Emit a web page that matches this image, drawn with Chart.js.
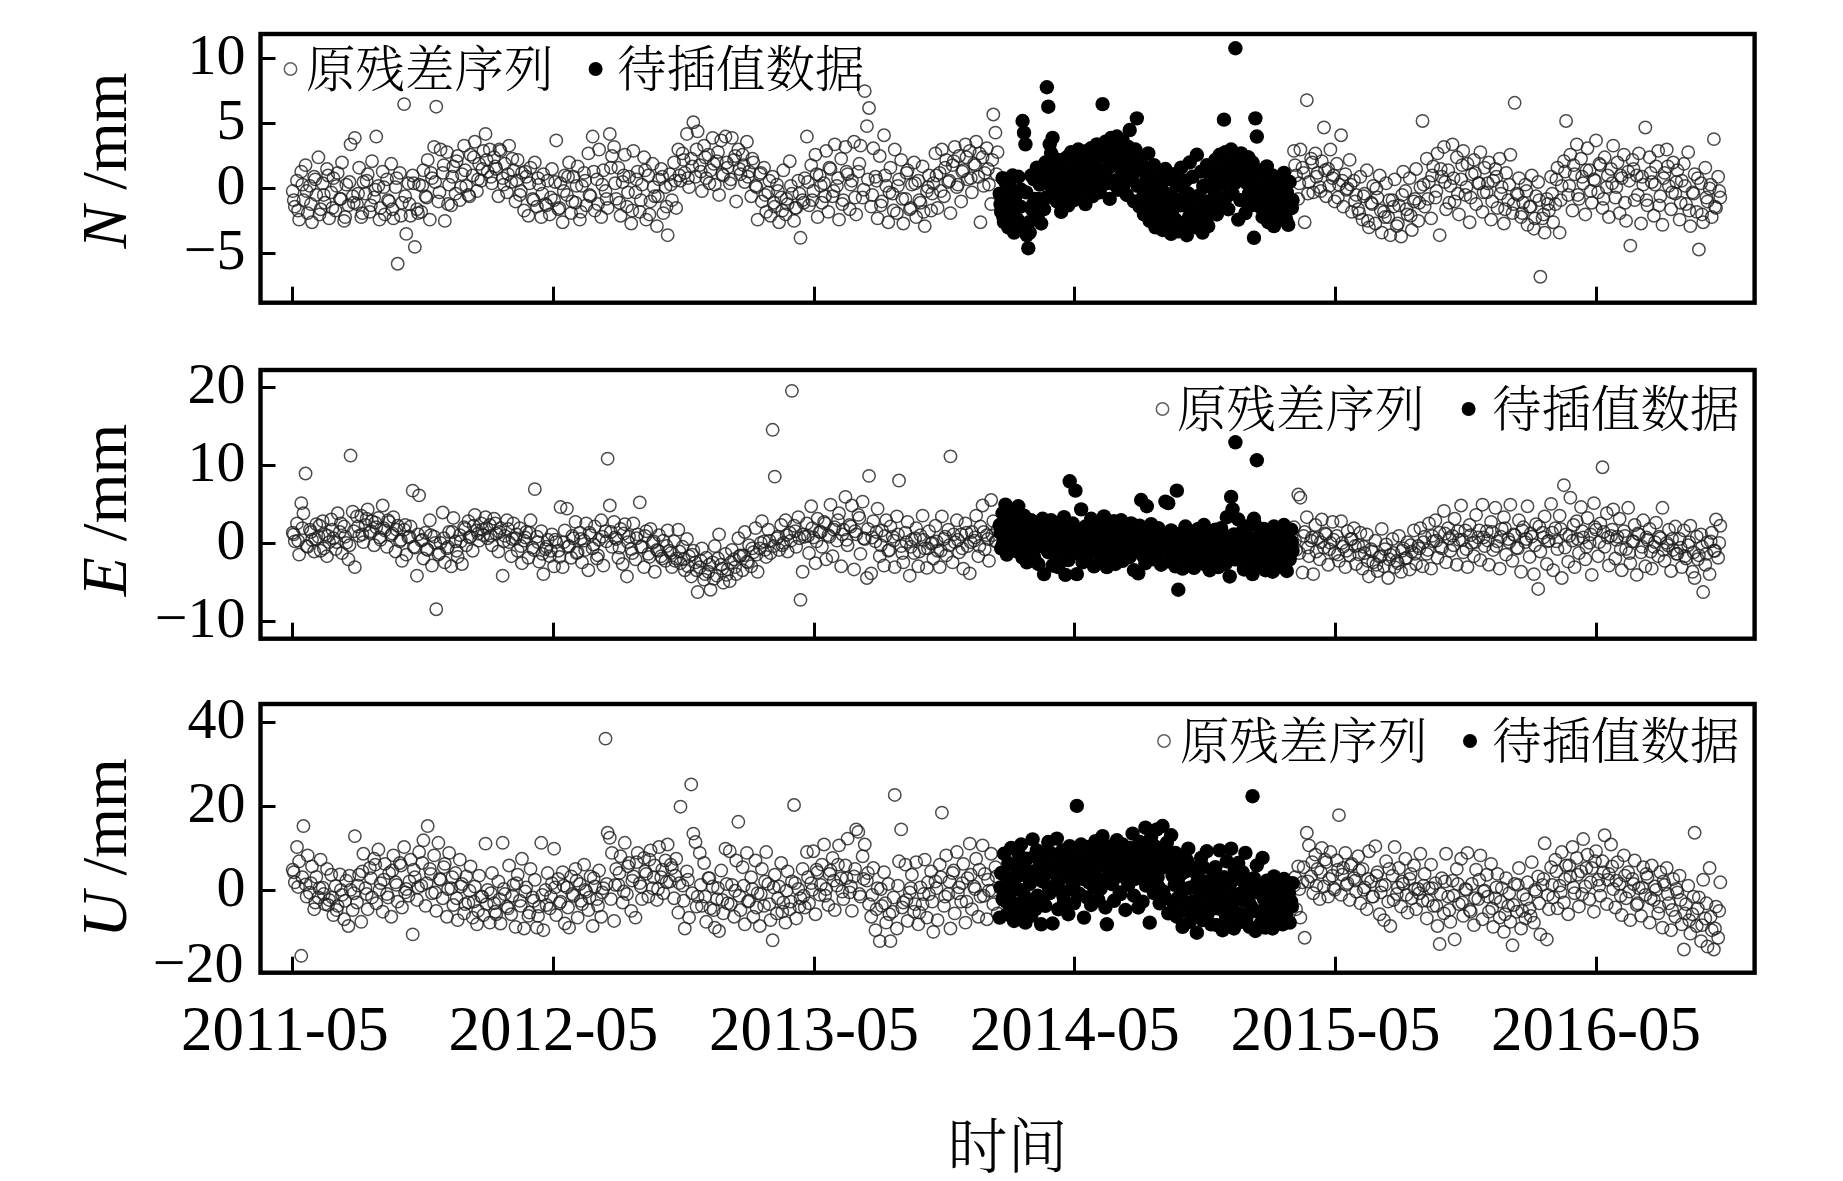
<!DOCTYPE html>
<html><head><meta charset="utf-8">
<style>html,body{margin:0;padding:0;background:#fff;width:1843px;height:1181px;overflow:hidden}canvas{position:absolute;left:0}</style>
<script src="https://cdn.jsdelivr.net/npm/chart.js@4"></script>
</head><body>
<canvas id="cN" style="top:0"></canvas>
<canvas id="cE" style="top:340px"></canvas>
<canvas id="cU" style="top:680px"></canvas>
<script>
const xTickValues=[0,365,730,1095,1460,1825];
const xTickLabels=['2011-05','2012-05','2013-05','2014-05','2015-05','2016-05'];
const xAxisTitle='时间';
const legendLabels=['原残差序列','待插值数据'];
const nTicks=[10,5,0,-5];
const eTicks=[20,10,0,-10];
const uTicks=[40,20,0];
const uExtraTickLabel='−20';
const startBefore=0,startFilled=990,startAfter=1402;
const stepOpen=3,stepFilled=2;
const startBefore2=1.5,startFilled2=991,startAfter2=1403.5;
const stepOpen2=6,stepFilled2=4;
const nBefore=[-0.2,-1.4,0.6,-2.4,1.3,-0.9,1.8,-1.9,0.2,-2.6,0.9,-0.5,2.4,-1.6,0.4,-1.1,1.5,-2.3,-0.3,0.8,-1.7,1.2,-0.8,2.0,-2.5,0.3,-1.3,3.4,-0.6,3.9,
-1.2,1.6,-2.2,0.5,-0.4,1.1,-1.8,2.1,-0.7,4.0,0.2,-1.5,1.3,-2.0,0.7,-1.0,1.9,-2.3,0.1,-5.8,1.2,-1.1,6.5,-3.5,0.4,-2.1,1.0,-4.5,-1.6,0.3,
-1.8,1.4,-0.6,2.2,-2.4,0.8,3.2,6.3,-1.0,3.0,1.2,-2.5,2.8,0.3,-1.3,1.7,-0.4,2.5,-0.9,1.1,3.3,0.2,-0.5,2.6,1.0,3.6,-0.2,1.9,0.6,2.9,
4.2,1.3,3.0,0.4,2.4,1.5,-0.6,2.9,0.8,1.9,-0.3,3.3,0.5,1.4,-1.0,2.2,-0.5,1.2,-1.7,0.9,-2.1,1.6,-0.8,2.0,-1.4,0.3,-2.2,1.1,-1.2,0.6,
-2.0,1.5,-0.9,3.7,-1.6,0.4,-2.6,1.0,-0.5,2.0,-1.9,0.9,-1.1,1.7,-2.4,0.2,1.2,-1.3,2.7,-0.6,4.0,-1.7,0.7,3.0,-2.2,1.4,-0.2,-1.5,4.2,2.5,
3.2,-0.8,1.6,-2.1,0.5,2.6,-1.4,0.9,-2.7,2.9,-0.3,1.3,-1.8,0.3,2.4,-2.4,1.0,-1.0,1.9,-0.6,-2.9,0.7,1.5,-1.9,0.1,-3.6,1.1,-0.9,2.0,-1.5,
3.0,0.6,2.7,1.2,4.2,0.1,2.3,5.1,0.9,4.4,1.8,-0.2,3.3,0.8,2.6,1.4,3.9,0.3,2.1,-0.5,3.7,1.0,4.0,1.6,0.4,3.9,2.2,-1.0,3.0,1.1,
2.6,0.5,3.6,1.3,-0.6,2.0,0.2,-2.4,1.1,-1.0,1.6,-1.8,-0.3,-2.1,0.9,-1.4,0.3,-2.6,-0.7,1.4,-2.0,-1.2,2.1,-0.4,-2.5,-1.5,0.6,-3.8,-0.9,0.8,
4.0,-1.3,1.8,-0.2,2.6,-2.2,1.0,-1.1,0.4,2.9,-1.8,1.5,-0.6,3.4,0.2,-2.4,2.3,-0.9,3.2,1.1,-1.6,0.6,3.6,-2.0,1.3,3.3,-0.7,7.5,4.8,6.2,
-1.4,3.1,0.9,-2.3,2.5,-1.0,4.1,0.2,-2.6,1.6,-0.4,3.0,-1.9,0.7,2.2,-2.7,-0.8,1.4,-1.6,0.3,2.0,-2.2,0.6,-1.1,1.7,-2.9,-0.2,1.0,-1.7,0.4,
2.7,-1.5,1.2,3.0,-0.6,2.2,0.5,-1.9,1.8,3.2,0.1,2.5,-1.0,1.4,3.4,0.7,2.9,-0.3,1.9,3.6,0.9,-2.6,2.4,1.2,3.1,0.3,-1.2,5.7,4.3,2.8];
const nAfter=[2.9,1.0,-0.8,3.0,1.6,-2.6,6.8,0.5,2.3,-0.3,2.7,1.2,0.1,2.1,4.7,-0.6,1.5,3.0,0.8,-1.0,1.9,0.3,4.1,-1.4,1.1,0.0,2.2,-1.8,0.6,-0.5,
-1.6,0.9,-2.4,-0.4,1.4,-3.0,-1.1,0.2,-2.7,-0.7,1.0,-3.4,-1.8,0.4,-2.2,-3.6,-0.9,0.7,-2.9,-1.3,-3.7,1.3,-0.2,-2.0,0.8,-3.2,-1.0,1.5,-2.5,0.1,
5.2,-1.4,2.3,0.5,-2.3,1.7,-0.7,2.7,-3.6,0.9,3.2,-1.6,1.4,0.2,3.4,-1.0,2.4,-2.0,0.7,2.9,-0.5,1.9,-2.6,1.1,2.2,-1.2,0.4,2.8,-1.8,1.6,
-0.3,2.0,-2.4,0.6,1.5,-1.5,2.3,0.1,-2.7,1.2,-0.9,2.6,-1.9,6.6,-0.4,0.8,-2.2,-1.1,0.3,-2.8,-1.4,1.0,-3.1,-0.6,0.5,-6.8,-2.3,-3.4,-0.8,-1.7,
0.9,-2.6,-1.2,1.6,-3.4,0.2,2.1,5.2,-0.5,2.6,-1.7,1.1,3.4,-0.8,2.3,0.4,-2.0,3.1,1.4,-1.1,0.7,3.7,-0.3,1.8,-1.5,2.4,0.1,-2.2,1.5,3.3,
-0.7,2.0,-1.9,0.8,2.6,-2.5,1.3,-4.4,2.2,-0.9,1.0,2.7,-2.7,0.3,4.7,-1.3,2.4,0.5,-2.1,1.7,2.9,-0.6,-2.8,1.2,3.0,0.2,-1.6,2.0,-0.4,1.4,
-2.4,0.6,1.9,-1.2,2.8,-2.9,-0.3,1.1,-1.8,-4.7,0.4,-2.6,1.6,-1.0,0.0,-2.2,3.8,-1.5,0.9,-0.7];
const nFilled=[-0.4,-1.8,0.8,-2.6,0.5,-1.2,-3.0,0.2,-2.2,1.0,-3.4,-0.6,-1.5,0.9,-2.9,-0.1,5.2,4.3,3.4,-3.6,-4.6,-3.4,1.0,-1.3,0.7,-2.1,1.6,-0.8,0.3,-2.7,
1.3,-1.6,2.0,7.8,6.3,3.4,2.7,3.9,-0.2,1.2,-1.0,2.2,0.4,-1.8,1.6,0.6,-0.7,2.4,-1.3,0.9,2.8,0.1,-0.9,2.1,1.1,3.0,-0.4,1.7,0.3,2.5,
-1.2,2.9,1.0,0.2,3.1,-0.6,2.0,0.7,3.4,1.5,-0.3,2.7,6.5,1.2,3.6,0.4,2.3,-0.8,3.9,1.8,0.6,3.3,4.0,-0.1,2.6,1.0,3.7,0.3,2.2,-0.5,
3.2,4.5,0.9,2.5,-1.0,3.0,5.4,1.6,-1.4,2.0,0.2,-2.0,1.2,-0.7,2.7,-2.5,0.5,-1.5,1.8,-3.0,-0.3,1.0,-2.2,0.3,-3.2,-1.1,1.5,-2.7,-0.5,0.7,
-3.5,-1.6,1.1,-2.4,0.2,-3.3,-0.9,1.6,-2.8,-1.3,0.6,-3.6,-0.4,2.0,-2.1,0.9,-1.7,-3.0,2.6,-0.6,-2.4,1.3,-3.4,0.1,-1.0,1.8,-2.9,0.5,-1.9,1.2,
-0.8,2.2,-2.0,1.0,2.6,-1.2,0.3,5.3,2.8,0.7,-1.6,1.9,3.0,-0.4,1.3,10.8,2.3,-2.4,0.9,2.7,-0.9,1.6,-1.9,0.4,2.4,1.1,-1.3,2.0,-3.8,5.4,
4.0,0.2,-1.4,1.4,-2.2,0.6,-0.7,1.7,-2.6,0.1,-1.8,1.0,-2.9,-0.5,0.8,-1.6,-2.4,0.3,-1.1,1.2,-2.0,-0.3,-2.8,0.5,-1.5,-0.9];
const nBefore2=[-0.9,-1.7,0.3,-0.2,-1.2,0.7,-2.0,-0.5,1.0,-1.5,0.2,-0.8,-2.2,0.5,-1.1,
-0.4,-1.9,0.6,-1.3,-0.1,-2.4,0.1,-0.9,-1.6,0.8,-2.1,-0.6,-1.2,0.4,-1.9,
0.2,-0.7,1.2,0.5,-0.3,1.8,-1.2,0.9,2.1,0.1,1.4,-0.6,2.4,0.7,1.5,
2.2,0.9,1.7,3.0,0.3,1.1,2.3,0.6,-0.2,1.3,0.4,-0.9,0.8,-0.4,-1.3,
-0.7,0.5,-1.5,-0.2,0.9,-1.0,0.2,-1.8,0.6,-0.5,1.3,-1.2,0.3,-0.8,1.6,
0.4,-1.1,1.0,-0.3,-1.7,0.7,-0.9,1.4,-2.0,0.1,-0.6,0.9,-1.4,0.3,0.6,
1.0,2.2,0.8,1.7,3.0,1.3,2.4,0.4,1.9,2.8,1.1,2.0,0.7,2.5,1.5,
1.8,0.9,2.3,0.1,1.2,-0.5,0.6,-1.1,-0.2,-1.7,-0.8,0.2,-1.5,-0.4,-1.1,
0.5,-0.9,1.1,0.2,-0.6,1.6,-0.2,0.8,-1.2,1.3,0.3,-0.7,1.9,-0.1,0.7,
-0.5,0.6,-1.3,1.0,-0.3,-1.7,0.2,-0.8,1.2,-1.5,0.4,-0.9,-1.8,0.1,-0.4,
1.0,-0.2,1.6,0.6,2.1,0.3,1.3,2.4,0.8,1.8,2.7,0.2,1.5,2.2,1.1];
const nAfter2=[1.8,0.4,1.2,-0.4,2.0,0.9,-0.2,1.4,0.2,1.0,-0.7,0.6,-0.1,0.3,-1.0,
-1.9,-0.6,-2.5,-1.2,0.0,-1.7,-2.2,-0.9,-1.4,-2.7,-0.5,-1.6,-2.1,-0.8,-1.1,
0.3,-0.8,1.0,-0.2,1.5,0.5,-1.1,0.8,-0.4,1.8,0.1,-0.7,1.2,0.4,-0.3,
0.4,-1.0,0.9,-0.4,-1.6,0.3,-1.2,-0.5,-1.9,-0.2,-1.4,-2.3,-0.9,-2.0,-1.2,
-0.4,0.7,-0.9,1.3,0.2,1.8,-0.5,0.9,1.4,-0.2,0.6,1.9,-0.8,1.0,0.4,
0.1,1.0,-1.1,0.6,1.5,-0.5,0.9,-0.9,1.2,0.3,-1.3,0.8,1.7,-0.3,0.5,
-1.1,0.2,-1.7,-0.4,0.8,-2.0,-0.7,0.3,-1.4,-0.2];
const nFilled2=[-1.2,-2.2,-0.5,-1.7,-2.8,-0.9,-2.4,-1.4,-3.1,-0.3,-2.6,-1.6,-0.8,-2.3,-1.1,
0.4,-0.7,1.0,0.1,1.5,-0.3,0.7,1.8,-1.0,0.2,1.2,-0.5,2.0,0.5,1.4,
1.0,2.2,0.0,1.7,2.8,0.5,1.2,2.4,1.6,3.0,0.3,1.9,2.6,1.1,1.4,
2.0,0.8,2.6,0.2,1.4,-0.6,0.6,-1.4,-0.2,-2.0,-0.9,-1.6,-2.4,-0.4,-1.2,
-1.9,-0.8,-2.6,-1.3,-3.0,-0.3,-2.2,-1.1,-2.8,-0.6,-1.7,0.2,-2.4,-1.0,-1.5,
-0.2,1.0,0.3,1.7,-0.7,0.8,2.1,0.4,1.4,-0.9,0.6,1.8,-0.4,1.1,0.2,
-0.6,-1.4,0.2,-1.9,-0.9,-0.2,-2.2,-1.2,-0.5,-1.7,-2.4,-1.0,-1.5];
const eBefore=[1.4,0.3,2.6,-1.4,5.2,3.9,9.0,-0.4,1.8,0.5,-1.0,2.5,0.9,-0.9,2.9,1.2,-1.6,0.2,3.1,0.7,-0.7,3.9,1.5,-1.2,2.2,0.1,-2.0,11.3,4.1,-3.0,
3.5,1.0,3.6,0.2,2.4,4.4,1.4,2.9,-0.2,2.1,3.3,0.5,4.9,1.7,-0.4,2.8,1.1,3.4,-1.0,2.3,0.3,-2.2,1.8,-1.4,0.8,2.2,6.8,-0.5,-4.1,6.2,
0.4,-1.9,1.4,-0.8,3.0,-2.8,0.9,-8.4,-1.4,0.1,4.0,-2.4,-0.6,1.5,-2.9,3.3,0.3,-1.7,1.1,-2.6,2.1,-0.2,2.9,0.9,-0.9,3.7,1.7,0.4,2.6,1.1,
3.4,0.7,2.4,-0.2,3.2,1.3,-1.0,2.0,-4.1,1.0,3.0,0.2,-1.6,2.6,0.7,-0.9,2.0,-2.5,0.4,1.5,-1.8,3.0,-0.5,7.0,0.9,-2.3,1.6,-3.9,-0.7,0.5,
-1.6,1.2,-2.9,0.2,-0.9,4.7,-3.0,1.7,4.5,-0.3,-1.8,0.7,2.8,-1.1,1.4,-2.4,0.4,2.6,-3.4,1.1,-0.6,2.2,-1.9,0.5,3.0,-2.8,1.6,10.9,4.9,-0.4,
2.8,0.6,-1.8,1.9,-2.6,2.5,-4.2,0.9,-0.7,2.6,-2.0,1.2,5.3,-0.4,-3.0,1.6,-1.3,1.9,0.1,-3.6,-0.8,1.1,-1.6,0.4,-2.2,1.7,-0.9,-3.0,0.3,-1.9,
1.8,-2.5,-0.4,-3.4,0.6,-1.6,-4.2,-0.9,-2.4,-6.2,-3.0,-0.6,-4.6,-1.8,-3.6,-5.9,-2.4,-0.3,-4.1,1.2,-2.7,-5.0,-1.3,-3.3,-4.8,-0.8,-2.0,-3.9,0.7,-1.5,
-3.4,1.5,-2.3,-0.2,-2.9,-1.1,2.0,-3.6,-0.6,2.9,0.3,-1.7,1.8,-1.2,14.6,8.6,0.7,-0.8,2.4,0.1,3.0,-1.0,1.4,19.6,2.3,-0.4,3.4,-7.2,-3.6,0.9,
2.6,-1.2,4.8,0.8,-2.5,3.2,1.5,-0.4,2.8,-2.0,1.1,5.0,-1.6,2.1,0.4,3.9,-2.9,1.8,6.0,-0.2,2.4,4.9,-3.3,1.2,3.7,-1.3,5.4,0.6,-4.4,8.7,
-3.8,2.9,0.3,4.5,-1.6,1.7,-2.8,3.0,-0.9,2.2,0.9,-3.0,3.5,8.1,-0.3,-2.4,1.4,2.8,-4.1,0.5,-1.2,2.0,-2.9,1.1,3.6,-0.6,-3.1,1.6,0.0,-1.9,
2.3,-0.9,-3.0,3.5,0.6,-1.5,1.8,11.2,-2.4,0.2,3.0,-1.1,1.2,-3.2,2.6,-0.3,-3.8,1.5,0.4,3.6,-1.6,2.2,4.9,-0.7,1.1,-2.2,5.6,2.9,0.3,1.8];
const eAfter=[2.1,-0.8,6.3,5.9,-3.7,1.5,3.4,-1.6,0.4,-3.9,2.4,0.7,-2.0,3.1,-0.5,1.2,-2.7,0.1,2.8,-1.2,1.0,-2.2,2.9,-0.4,-3.0,1.6,-1.5,0.6,2.0,-2.6,
-0.2,1.4,-3.2,-1.2,1.2,-4.2,-0.7,-2.4,0.4,-3.5,-1.7,1.9,-2.9,-0.1,-4.4,-1.4,0.6,-3.0,-2.2,1.0,-3.6,-0.6,-1.9,0.2,-3.3,-1.0,1.7,-2.6,-0.3,2.0,
-2.9,0.9,-1.3,2.6,-3.2,0.3,3.0,-1.8,1.4,-0.6,4.2,-2.4,2.0,-0.9,1.0,3.2,-2.7,0.5,4.9,-1.1,1.7,-3.0,2.4,0.1,-1.6,3.7,0.8,-2.1,5.0,-0.3,
1.6,-2.7,2.8,-0.8,4.6,0.3,-3.2,1.9,3.4,-1.4,0.6,5.0,-2.2,1.1,-0.5,3.0,-3.6,2.1,0.2,4.8,-1.7,0.9,-3.9,2.5,-5.8,-1.0,1.4,3.5,-2.6,0.4,
5.1,-3.4,2.0,-0.7,3.6,-4.4,7.5,1.2,-2.3,5.9,0.4,-3.0,2.9,-1.2,4.7,0.8,-2.0,3.3,0.1,-4.0,5.2,1.8,-1.6,2.6,9.8,-0.4,3.9,-2.8,1.0,4.4,
-1.9,0.9,3.2,-3.4,1.6,-0.7,4.6,-2.5,0.3,2.4,-4.0,1.2,-1.1,3.0,-2.9,0.5,1.9,-3.2,-0.4,2.7,-1.6,0.7,4.6,-2.2,0.1,1.8,-3.5,-0.8,2.2,-1.3,
0.6,-3.0,1.7,-1.9,-0.2,2.3,-3.6,-4.4,0.9,-1.5,1.2,-6.2,-2.7,0.2,-3.9,1.4,-0.9,3.1,-1.8,2.3];
const eFilled=[2.4,-0.6,3.9,1.0,5.0,-1.4,2.8,0.3,4.4,-0.4,3.2,1.2,-1.0,4.8,0.6,2.4,-1.8,3.6,0.2,-2.4,2.0,-0.8,3.0,1.1,-1.7,2.6,0.4,-2.6,1.6,-0.3,
3.2,-3.9,0.9,2.2,-1.1,1.4,3.0,-2.8,0.6,1.9,-0.5,-3.0,2.5,0.1,-1.5,3.4,-4.0,1.0,-2.1,8.0,0.4,2.6,-1.2,6.8,-3.9,1.5,-0.3,4.4,-2.4,0.8,
2.2,-1.8,1.2,-0.6,3.2,0.3,-2.9,1.8,-1.0,2.7,0.6,-2.0,1.4,3.5,-0.4,-3.0,1.0,2.4,-1.5,0.2,2.9,-2.6,0.7,-0.8,1.7,3.0,-2.2,0.4,-1.2,2.0,
0.9,-1.7,2.6,-0.2,-3.4,1.4,0.1,-3.8,2.3,5.6,-1.1,0.7,-2.5,4.8,1.9,-0.7,2.5,0.3,-2.0,1.5,-1.3,2.0,0.5,-2.7,1.1,-0.9,5.4,0.0,5.2,-2.3,
1.7,-0.6,0.9,-2.9,6.8,-5.9,-1.4,1.3,-3.2,0.2,2.2,-1.8,-0.4,1.6,-2.6,0.7,-3.1,1.2,-0.9,1.9,-2.0,0.4,-1.5,2.4,-2.7,0.0,1.4,-3.4,-1.1,0.8,
-2.3,1.8,-0.7,-3.0,0.6,2.0,-1.7,1.0,-2.6,3.4,-0.2,-4.2,6.0,4.4,1.2,13.0,-2.0,3.1,0.3,-1.3,1.6,-3.3,0.2,2.2,-1.0,-2.5,0.7,-3.9,3.2,2.4,
10.7,-1.6,1.0,-2.8,0.3,1.9,-3.4,-0.8,1.2,-2.2,0.4,-3.6,2.2,-1.2,0.6,-3.0,1.5,-0.3,-2.4,2.4,-1.4,-3.5,0.9,-2.0,1.8,-0.9];
const eBefore2=[1.2,0.4,2.0,-0.3,1.5,0.6,2.3,-0.6,1.0,1.8,0.2,2.6,0.9,-0.2,1.6,
2.2,1.2,3.2,1.6,2.7,0.8,2.0,3.0,1.3,1.8,0.5,2.4,0.9,-0.4,1.2,
0.5,-0.7,1.1,0.1,-1.2,0.7,-0.4,1.5,-0.9,0.3,1.9,0.8,2.3,1.3,1.8,
2.0,1.0,2.6,1.5,0.3,1.9,0.6,1.2,-0.3,0.8,1.4,-0.8,0.2,-1.3,-0.4,
-0.9,0.5,-1.7,0.2,-0.4,1.0,-1.2,0.6,-0.8,1.4,-0.1,-1.5,0.9,0.3,1.5,
0.8,-0.5,1.3,0.2,-1.2,0.7,-0.4,1.0,-1.7,0.3,-0.9,-1.9,-0.3,-1.2,-2.2,
-1.0,-2.0,-2.9,-1.4,-3.4,-2.2,-3.9,-2.7,-4.5,-1.9,-3.2,-4.0,-2.4,-3.0,-1.6,
-1.5,-2.4,-0.6,-1.4,0.1,-0.8,0.4,-0.3,0.9,-0.2,1.1,0.4,1.6,0.7,1.2,
1.0,2.0,0.3,1.5,2.6,0.9,1.8,3.0,1.2,0.5,2.2,1.6,3.3,0.7,1.9,
0.8,1.5,-0.2,1.0,-0.8,0.4,1.2,-1.2,0.2,-0.4,0.7,-1.0,0.5,-0.6,0.1,
0.3,-0.9,0.9,-0.2,1.2,0.5,-0.6,1.4,0.2,0.8,-0.3,1.5,0.6,1.1,0.3];
const eAfter2=[0.4,-1.2,1.0,-0.5,0.8,-1.0,0.2,1.3,-0.7,0.5,-1.4,0.1,-0.9,0.6,-0.3,
-1.4,-0.4,-2.2,-1.0,-2.7,-1.6,-0.7,-2.0,-1.2,-2.5,-0.9,-1.8,-0.2,-1.3,-0.6,
0.2,-0.8,1.0,0.4,-0.4,1.3,0.7,-0.2,1.6,0.5,-0.7,1.1,0.2,1.7,0.8,
0.4,1.5,-0.3,0.9,2.0,0.2,1.2,-0.6,1.7,0.6,1.3,-0.2,2.2,0.8,0.3,
1.4,0.3,1.9,-0.5,1.0,2.4,0.6,1.6,-0.4,1.2,2.1,0.2,1.5,0.8,1.8,
0.5,-0.7,1.0,-1.2,0.3,1.3,-0.4,0.8,-1.0,0.2,0.9,-0.8,-0.2,0.6,-1.3,
-0.5,-1.6,0.2,-1.1,-2.0,-0.4,-1.3,0.3,-0.9,0.1];
const eFilled2=[1.4,0.2,2.2,0.8,1.7,-0.3,1.1,2.6,0.5,1.5,-0.5,0.9,1.9,0.3,1.2,
0.6,-0.6,1.3,0.2,-1.2,0.9,-0.2,1.7,-0.8,0.5,1.2,-0.4,0.1,1.0,-0.9,
0.5,-0.7,1.0,-0.2,1.7,-1.1,0.3,0.9,-0.5,1.3,-1.4,0.6,-0.1,1.5,0.2,
-0.4,0.7,-1.0,1.2,-0.2,-1.6,0.5,1.0,-0.7,0.2,-1.2,1.4,-0.5,0.3,-0.9,
0.4,-1.1,-0.2,0.7,-1.5,0.3,-0.6,1.0,-1.3,-0.1,0.5,-0.9,-1.7,0.2,-0.4,
-0.8,0.4,-1.6,-0.3,0.8,-1.1,0.1,-2.0,-0.5,0.6,-1.3,1.0,-0.7,-1.8,0.2,
-0.5,-1.5,0.4,-1.1,-2.2,-0.2,-1.3,0.6,-0.8,-1.9,-0.3,-1.0,0.2];
const uBefore=[5.0,2.0,10.4,7.0,-15.5,15.4,1.5,8.4,-0.5,5.8,-4.4,3.3,-1.6,7.4,0.7,-3.2,5.2,-2.2,3.8,-5.8,1.1,-3.6,3.9,-1.0,-6.8,2.4,-8.4,0.2,-4.6,13.0,
-2.8,3.8,-7.4,8.8,0.6,-4.4,5.4,-1.6,7.6,-3.0,9.8,1.8,-5.0,6.4,-0.8,4.2,-6.2,8.4,2.0,-2.6,6.6,-4.0,10.4,0.4,-1.2,7.4,-10.4,3.2,-2.2,9.2,
1.2,12.0,-3.6,15.4,5.2,-0.6,8.4,-4.8,11.4,2.6,-1.8,6.4,-6.2,9.0,0.6,-3.4,4.2,-7.0,7.4,1.6,-5.4,3.4,-2.8,5.8,-6.4,1.0,-8.0,3.6,-1.4,-5.8,
11.2,0.2,-7.6,4.2,-3.0,-5.6,2.2,-7.8,11.4,-0.8,-3.8,6.0,-5.6,1.4,-8.6,3.8,-2.4,7.6,-9.0,0.8,-6.0,5.2,-1.6,2.6,-8.8,-3.8,11.4,-9.4,0.2,4.2,
-4.2,1.8,10.0,-5.8,2.8,-2.6,4.4,-7.8,0.8,-8.8,3.4,-1.2,5.2,-6.4,1.6,-3.2,6.2,-0.2,-4.6,3.4,-8.4,1.0,-2.0,4.8,-6.2,0.6,36.2,13.8,12.6,9.0,
-7.2,5.2,1.4,8.2,-2.8,11.4,-0.8,6.6,-4.8,3.4,-6.4,9.0,1.8,-2.0,7.8,4.0,-1.4,9.6,0.6,6.0,-2.2,10.4,3.2,-0.6,7.2,11.0,2.2,5.4,-1.8,7.6,
-5.2,20.0,1.2,-9.0,4.6,-6.4,25.3,13.6,11.6,-1.4,9.0,-3.6,6.6,-7.4,3.0,-4.2,1.0,-8.8,-2.0,-9.6,4.8,-5.4,10.0,-3.0,9.4,1.4,-6.2,7.2,16.4,-4.6,
5.6,-8.0,9.0,-2.4,3.2,-6.2,7.2,-0.6,-8.4,5.2,-3.6,9.2,1.6,-7.0,-11.8,3.8,-5.4,1.0,6.6,-2.8,-7.6,4.6,-4.4,2.2,20.4,-6.6,0.4,-1.8,5.2,-4.0,
9.2,-3.0,1.8,9.4,-5.6,4.4,-1.0,6.2,11.0,0.4,-3.4,4.8,7.8,-4.6,1.2,10.8,3.0,-2.0,6.0,12.4,-0.4,-4.8,3.4,14.6,14.0,-1.4,8.2,11.0,2.4,-3.2,
-6.2,5.4,-9.4,0.6,-12.0,-3.6,4.4,-7.6,1.6,-12.0,-5.0,22.8,-9.0,7.0,14.6,-2.8,6.2,-7.2,-0.4,3.8,-5.0,6.8,-8.0,0.8,-3.2,7.4,-6.4,-0.8,4.6,-9.8,
2.2,-7.0,6.2,18.6,-3.6,8.4,-0.8,-9.0,4.2,-5.4,9.2,0.8,-2.6,6.4,-7.6,3.0,11.2,-4.4,1.0,7.6,-6.2,-1.4,10.8,4.0,-6.8,0.0,8.8,-3.2,5.6,-5.4];
const uAfter=[1.2,-4.4,5.8,-6.4,2.0,-11.2,13.8,10.8,3.4,-0.6,8.6,5.2,-2.0,10.2,1.0,6.8,-1.4,9.2,3.6,0.2,7.2,18.0,-1.0,5.4,9.0,1.8,-2.2,6.4,3.0,-0.2,
8.2,-3.0,5.2,0.8,-4.4,9.4,2.2,-1.4,10.6,4.4,-5.6,1.2,-7.0,7.0,-2.6,-8.4,3.6,10.4,-0.8,5.4,-3.8,1.6,7.6,-5.2,2.8,-1.8,6.0,-4.4,0.4,8.8,
-2.4,4.0,-6.6,0.6,6.2,-3.6,1.8,-8.4,-12.7,3.0,-5.4,8.8,-1.4,-7.4,2.4,-11.6,5.2,-3.2,7.6,-6.0,0.4,9.0,-4.6,1.6,-8.2,5.0,-2.0,8.4,-6.8,0.0,
3.8,-5.0,6.4,-8.6,-1.8,4.0,-6.4,0.6,-9.8,3.0,-3.6,-7.4,-13.0,1.6,-5.0,5.4,-9.0,-1.0,-6.6,2.0,-4.2,6.8,-7.6,-0.2,3.4,-10.4,1.4,11.3,-11.6,-4.4,
5.6,-1.6,7.4,-4.2,1.2,9.2,-2.8,6.0,-5.6,3.4,10.4,-0.6,7.8,-3.8,4.6,12.3,1.0,8.6,-2.0,5.4,-5.0,9.4,2.6,-1.2,7.0,13.2,-3.2,4.0,11.0,0.4,
-4.0,6.8,1.6,-5.8,8.4,-1.8,4.4,-7.0,2.8,7.2,-3.4,0.6,-6.0,5.6,-1.0,3.2,-7.6,6.0,-2.2,0.2,-5.4,4.4,-8.8,1.4,5.4,-3.0,-9.4,2.8,-6.2,-0.4,
3.6,-8.0,-14.0,-3.2,1.2,-10.2,-5.6,13.8,-8.4,-1.6,-12.0,2.6,-6.6,-13.3,5.4,-9.4,-14.0,-3.8,-11.2,2.0];
const uFilled=[-6.4,4.2,-2.0,8.8,1.0,-5.6,6.6,-1.0,10.2,3.0,-7.2,5.8,-3.2,9.0,0.2,11.0,-5.0,3.8,-7.6,7.6,-2.2,1.6,-6.0,12.2,4.6,-4.4,9.6,-1.4,6.0,-8.0,
2.2,9.0,-3.6,6.2,11.6,-0.6,4.4,-7.8,8.4,1.4,12.4,-4.4,5.8,0.0,9.6,-2.8,7.0,3.2,-5.6,10.6,6.0,1.2,-3.0,8.2,20.2,4.6,-0.8,11.0,2.8,-6.4,
7.2,-1.6,10.4,4.2,-3.4,8.0,0.8,11.8,5.6,-2.2,9.2,2.6,13.0,6.6,-4.0,-8.0,7.8,1.8,10.6,4.8,-2.4,9.6,12.0,3.4,-0.4,7.2,11.0,5.2,-4.6,8.4,
1.4,10.2,5.4,13.6,-1.2,8.2,3.0,-4.0,11.6,6.4,-2.6,9.8,15.0,2.2,7.4,-7.6,12.8,4.6,-0.6,10.0,14.6,1.0,-3.0,8.8,15.4,5.6,-1.8,11.4,-5.4,7.6,
13.2,3.6,-3.2,9.0,-6.2,1.8,8.2,-1.0,-8.6,4.4,-4.6,7.2,10.0,-7.4,0.8,-2.6,5.4,-5.8,-10.0,3.0,-0.6,7.8,-7.0,-3.4,2.2,9.4,-5.2,0.4,-8.0,4.8,
-2.2,5.6,-8.2,0.6,9.6,-4.4,-9.4,3.2,-1.4,7.0,-6.6,1.2,10.0,-3.6,-9.0,2.8,-5.4,6.6,-0.8,-7.4,4.4,-2.4,9.0,-6.0,0.2,-8.6,-3.8,22.5,3.0,-9.6,
6.0,-5.0,0.6,-7.6,7.8,-2.0,-8.8,2.4,-4.6,-6.4,0.0,-9.0,3.4,-3.0,-7.2,1.4,-5.8,-1.2,-8.0,2.8,-4.0,-6.8,0.4,-7.6,-2.6,1.8];
const uBefore2=[4.4,0.9,3.2,-1.4,1.8,-2.8,0.6,-0.8,-3.4,-1.6,-4.6,0.2,-2.4,3.6,-0.6,
1.2,4.6,-0.8,3.0,6.2,0.2,2.6,-1.6,4.8,1.4,6.0,-0.4,2.2,5.0,0.8,
6.6,1.8,4.0,-0.4,2.8,5.6,0.4,3.2,-1.8,1.0,-3.2,0.0,-2.6,-4.8,-1.4,
-3.2,-0.6,-5.0,-2.0,0.4,-4.2,-1.2,1.8,-3.6,-0.2,-5.2,-2.4,-6.0,-1.0,-3.4,
-1.4,0.8,-3.0,1.2,-4.0,-0.8,2.4,-2.4,0.2,-1.6,3.0,-3.6,-0.4,1.6,-2.0,
1.4,4.2,-0.2,5.8,2.4,6.8,1.0,4.6,7.4,3.2,0.4,5.0,2.0,6.2,3.6,
1.8,-2.4,2.6,-0.6,-3.8,1.4,-1.4,3.0,-4.6,0.6,-2.2,1.6,-3.2,0.0,-1.2,
1.2,-2.6,0.4,-4.0,-0.8,2.2,-3.2,0.8,-1.8,-5.0,0.0,-2.6,1.8,-3.8,-1.2,
3.2,0.2,5.0,1.4,-1.2,4.0,2.4,6.2,-0.2,3.0,1.0,5.2,-0.8,2.8,4.2,
-1.0,-4.4,0.4,-3.0,-5.6,-1.6,1.2,-4.0,-2.2,0.6,-3.2,-5.2,-0.8,2.0,-2.6,
0.6,3.2,-1.4,2.2,4.8,-0.6,1.8,-2.6,3.8,0.4,5.0,-1.2,2.6,0.0,3.4];
const uAfter2=[3.2,0.4,5.6,2.2,6.8,1.2,4.4,7.4,2.8,0.6,5.0,3.8,1.4,6.0,2.4,
4.8,0.2,2.8,-1.4,3.6,-0.4,1.4,5.2,-2.2,0.8,2.2,-1.0,4.0,0.4,-0.6,
1.2,-2.4,0.6,-3.6,-0.8,2.2,-4.6,-1.2,1.6,-2.8,0.2,-5.0,-1.8,2.6,-0.2,
-1.4,-4.2,0.8,-2.6,-5.6,-0.6,-3.4,1.4,-4.8,-2.0,-6.0,0.2,-3.0,2.8,-1.0,
1.4,4.6,-0.4,2.8,6.0,0.8,3.8,-0.8,5.4,2.0,7.0,1.2,4.4,2.6,5.8,
2.4,-1.2,3.6,-0.2,1.6,-3.0,0.8,4.0,-1.8,1.0,-3.8,2.2,-0.8,-4.6,0.4,
-2.2,-5.4,-7.0,-1.4,-4.2,-8.2,-3.0,-6.2,-9.0,-4.8];
const uFilled2=[0.8,4.0,-2.6,6.4,1.8,-4.0,3.4,7.8,-0.4,5.0,-3.0,2.4,8.2,-1.2,4.4,
3.2,6.6,0.6,8.8,4.2,1.4,7.2,-1.2,5.4,9.4,2.6,0.0,6.8,3.6,7.8,
5.4,2.0,9.0,3.4,7.6,0.4,6.2,10.2,4.0,1.6,8.4,5.8,-0.8,7.0,3.0,
6.0,9.6,2.8,7.2,4.4,11.2,1.2,8.6,5.0,10.6,3.2,6.8,-0.2,9.2,5.6,
5.8,1.4,-1.8,3.8,6.4,-3.4,0.6,4.8,-5.2,2.2,-1.2,5.6,-4.0,-0.2,2.6,
0.2,-4.2,3.0,-2.0,-6.2,1.4,-3.4,5.0,-1.0,-5.6,2.2,-7.0,-2.8,0.8,-4.8,
-0.4,-5.2,1.2,-3.2,-6.8,-1.4,-4.4,0.6,-7.4,-2.4,-5.6,-0.6,-3.8];

const SERIF='"Liberation Serif","Times New Roman",serif';
const CJK='"Noto Serif CJK SC","Noto Sans CJK SC",serif';
const pts=(vals,start,step)=>vals.map((y,i)=>({x:start+i*step,y}));
const W=1843,XMIN=-45.1,XMAX=2047;

function panel(cfg){
  const cv=document.getElementById(cfg.id);
  cv.width=W;cv.height=cfg.h;
  const plug={id:'deco',
    afterDraw(c){
      const g=c.ctx,a=c.chartArea;
      g.save();
      g.strokeStyle='#000';g.lineWidth=4.4;
      g.strokeRect(a.left,a.top,a.right-a.left,a.bottom-a.top);
      g.translate(126,cfg.titleY);g.rotate(-Math.PI/2);
      g.fillStyle='#000';g.textBaseline='alphabetic';
      g.font='italic 64px '+SERIF;const w1=g.measureText(cfg.letter).width;
      g.font='64px '+SERIF;const w2=g.measureText(' /mm').width;
      let x0=-(w1+w2)/2;
      g.font='italic 64px '+SERIF;g.textAlign='left';g.fillText(cfg.letter,x0,0);
      g.font='64px '+SERIF;g.fillText(' /mm',x0+w1,0);
      g.restore();
      g.save();
      const L=cfg.legend;
      g.textBaseline='middle';g.textAlign='left';g.font='300 49.5px '+CJK;g.fillStyle='#000';
      g.fillText(legendLabels[0],L.t1,L.y-1);
      g.fillText(legendLabels[1],L.t2,L.y-1);
      g.beginPath();g.arc(L.m1,L.y,6.2,0,2*Math.PI);g.strokeStyle='rgba(70,70,70,.85)';g.lineWidth=1.5;g.stroke();
      g.beginPath();g.arc(L.m2,L.y,7,0,2*Math.PI);g.fillStyle='#000';g.fill();
      if(cfg.extraLabel){
        g.font='58px '+SERIF;g.textAlign='right';g.textBaseline='middle';g.fillStyle='#000';
        g.fillText(cfg.extraLabel,243.5,cfg.extraY);
      }
      g.restore();
    }};
  const openData=pts(cfg.before,startBefore,stepOpen).concat(pts(cfg.before2,startBefore2,stepOpen2),pts(cfg.after,startAfter,stepOpen),pts(cfg.after2,startAfter2,stepOpen2));
  const filledData=pts(cfg.filled,startFilled,stepFilled).concat(pts(cfg.filled2,startFilled2,stepFilled2));
  return new Chart(cv,{type:'scatter',
    data:{datasets:[
      {label:legendLabels[0],data:openData,
       pointRadius:6.2,pointBackgroundColor:'rgba(0,0,0,0)',pointBorderColor:'rgba(30,30,30,.8)',pointBorderWidth:1.5,order:2},
      {label:legendLabels[1],data:filledData,
       pointRadius:7.2,pointBackgroundColor:'#000',pointBorderColor:'#000',pointBorderWidth:0,order:1}
    ]},
    plugins:[plug],
    options:{responsive:false,animation:false,devicePixelRatio:1,
      layout:{padding:{top:cfg.top,right:88.4,left:0,bottom:0}},
      plugins:{legend:{display:false},tooltip:{enabled:false}},
      scales:{
        x:{type:'linear',min:XMIN,max:XMAX,
          afterBuildTicks(s){s.ticks=xTickValues.map(v=>({value:v}));},
          afterFit(s){s.height=cfg.h-cfg.bottom;s.paddingLeft=0;s.paddingRight=0;},
          grid:{drawOnChartArea:false,drawTicks:true,tickLength:-16,tickWidth:3,tickColor:'#000'},
          border:{display:false},
          ticks:{display:cfg.showX,autoSkip:false,maxRotation:0,padding:39,color:'#000',
            font:{family:SERIF,size:63},callback:(v)=>{const i=xTickValues.indexOf(v);return i<0?'':(i===0?xTickLabels[i]+'\u00a0':xTickLabels[i]);}},
          title:{display:cfg.showX,text:xAxisTitle,color:'#000',font:{family:CJK,size:60,weight:300},padding:{top:0,bottom:0}}
        },
        y:{type:'linear',min:cfg.ymin,max:cfg.ymax,
          afterBuildTicks(s){s.ticks=cfg.ticks.map(v=>({value:v}));},
          afterFit(s){s.width=260.5;s.paddingTop=0;s.paddingBottom=0;},
          grid:{drawOnChartArea:false,drawTicks:true,tickLength:-15,tickWidth:3,tickColor:'#000'},
          border:{display:false},
          ticks:{padding:30,color:'#000',autoSkip:false,font:{family:SERIF,size:58},
            callback:(v)=>(v<0?'−'+Math.abs(v):String(v))}
        }
      }
    }
  });
}
panel({id:'cN',h:330,top:34,bottom:302.7,ymin:-8.8,ymax:11.9,ticks:nTicks,before:nBefore,after:nAfter,filled:nFilled,before2:nBefore2,after2:nAfter2,filled2:nFilled2,showX:false,
  letter:'N',titleY:160.5,legend:{y:69,m1:290.5,t1:306,m2:595.6,t2:617}});
panel({id:'cE',h:320,top:30,bottom:298.7,ymin:-12.18,ymax:22.27,ticks:eTicks,before:eBefore,after:eAfter,filled:eFilled,before2:eBefore2,after2:eAfter2,filled2:eFilled2,showX:false,
  letter:'E',titleY:170,legend:{y:69,m1:1162.5,t1:1177,m2:1468.6,t2:1492}});
panel({id:'cU',h:501,top:24,bottom:292.7,ymin:-19.52,ymax:44.45,ticks:uTicks,before:uBefore,after:uAfter,filled:uFilled,before2:uBefore2,after2:uAfter2,filled2:uFilled2,showX:true,
  letter:'U',titleY:168,extraLabel:uExtraTickLabel,extraY:287,legend:{y:61,m1:1164,t1:1180,m2:1470,t2:1492}});
</script>
</body></html>
